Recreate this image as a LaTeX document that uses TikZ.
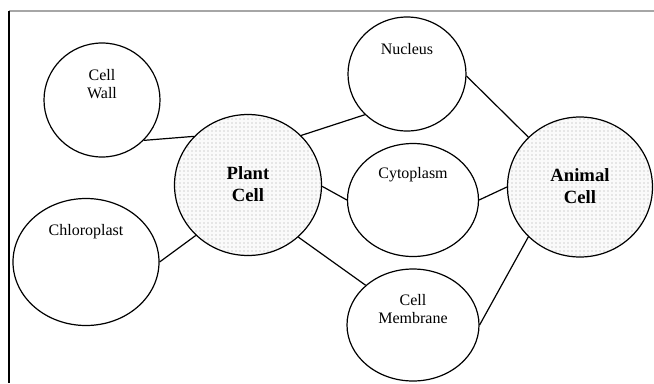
\documentclass[tikz,border=0pt]{standalone}
\usepackage{fontspec}
\setmainfont{Liberation Serif}
\usetikzlibrary{shapes.geometric,patterns}
\tikzset{
  cellnode/.style={ellipse, draw, line width=0.9pt, inner sep=0pt, fill=white},
  hubnode/.style={ellipse, draw, line width=0.9pt, inner sep=0pt,
    preaction={fill=gray!4}, pattern=dots, pattern color=gray!70},
  lbl/.style={align=center, font=\fontsize{12}{13.5}\selectfont, inner sep=0pt},
  hublbl/.style={align=center, font=\fontsize{14}{16}\selectfont\bfseries, inner sep=0pt},
  link/.style={line width=0.9pt}
}
\begin{document}
\begin{tikzpicture}[x=0.75pt,y=-0.75pt]
\useasboundingbox (0,0) rectangle (654,383);
\fill[white] (0,0) rectangle (654,383);
% frame
\coordinate (tl) at (9,11);
\coordinate (tr) at (654,11);
\coordinate (bl) at (9,383);
\draw[gray!70, line width=0.8pt] (tl) -- (tr);
\draw[black, line width=1.2pt] (tl) -- (bl);
% circles (sizes in pt = 0.75 * pixel size)
\node[cellnode, minimum width=87pt, minimum height=85.5pt] (cw) at (102,100) {};
\node[cellnode, minimum width=109.5pt, minimum height=95.25pt] (ch) at (86,262) {};
\node[hubnode, minimum width=110.25pt, minimum height=105.75pt] (pc) at (248,185) {};
\node[cellnode, minimum width=88.5pt, minimum height=85.5pt] (nu) at (407,74) {};
\node[cellnode, minimum width=98.25pt, minimum height=84.75pt] (cy) at (413,200) {};
\node[cellnode, minimum width=99pt, minimum height=84pt] (cm) at (413,325) {};
\node[hubnode, minimum width=108.75pt, minimum height=105pt] (ac) at (580,187) {};
% labels
\node[lbl] (cwt) at (102,84) {Cell\\Wall};
\node[lbl] (cht) at (86,232) {Chloroplast};
\node[lbl] (nut) at (407,49) {Nucleus};
\node[lbl] (cyt) at (413,175) {Cytoplasm};
\node[lbl] (cmt) at (413,309) {Cell\\Membrane};
\node[hublbl] (pct) at (248,184) {Plant\\Cell};
\node[hublbl] (act) at (580,186) {Animal\\Cell};
% connectors
\draw[link] (cw.-44) -- (pc.138);
\draw[link] (ch.0) -- (pc.224);
\draw[link] (pc.43) -- (nu.224);
\draw[link] (pc.-1) -- (cy.180);
\draw[link] (pc.-46) -- (cm.140);
\draw[link] (nu.-2) -- (ac.136);
\draw[link] (cy.0) -- (ac.180);
\draw[link] (cm.0) -- (ac.224);
\end{tikzpicture}
\end{document}
